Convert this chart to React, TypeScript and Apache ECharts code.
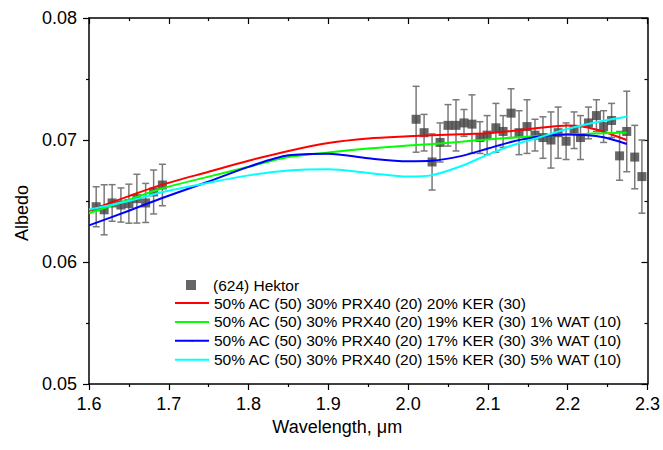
import React, { useEffect, useRef } from "react";
import * as echarts from "echarts";

// Observations: (624) Hektor
const obsWl = [
  1.609, 1.619, 1.629, 1.640, 1.650, 1.660, 1.671, 1.681, 1.692,
  2.010, 2.020, 2.030, 2.040, 2.050, 2.060, 2.070, 2.080, 2.090, 2.099,
  2.110, 2.119, 2.129, 2.139, 2.149, 2.159, 2.169, 2.179, 2.188, 2.198,
  2.208, 2.216, 2.226, 2.236, 2.245, 2.255, 2.265, 2.274, 2.284, 2.293,
];
const obsAlbedo = [
  0.06453, 0.06428, 0.06484, 0.06467, 0.06478, 0.06519, 0.06484, 0.06574, 0.06631,
  0.0717, 0.0706, 0.0682, 0.0698, 0.0712, 0.0712, 0.0714, 0.0713, 0.0702, 0.0704,
  0.0710, 0.0707, 0.0722, 0.0706, 0.0711, 0.0704, 0.0702, 0.0700, 0.0706, 0.0699,
  0.0708, 0.0702, 0.0714, 0.0720, 0.0711, 0.0716, 0.0687, 0.0707, 0.0686, 0.0670,
];
const obsErr = [
  0.00164, 0.00205, 0.0015, 0.0014, 0.0016, 0.0020, 0.0016, 0.0018, 0.0017,
  0.0027, 0.0015, 0.0023, 0.0016, 0.0017, 0.0021, 0.0011, 0.0024, 0.0013, 0.0016,
  0.0020, 0.0013, 0.0020, 0.0018, 0.0022, 0.0013, 0.0017, 0.0023, 0.0021, 0.0015,
  0.0015, 0.0018, 0.0013, 0.0013, 0.0013, 0.0014, 0.0020, 0.0033, 0.0026, 0.0030,
];

// Model curves
const curveWl = [
  1.6, 1.65, 1.69, 1.75, 1.8, 1.85, 1.9, 1.95, 2.0, 2.03, 2.066, 2.1, 2.13, 2.166, 2.2, 2.22, 2.245, 2.274,
];
const redVals = [
  0.0642, 0.0654, 0.0663, 0.0674, 0.0683, 0.0691, 0.06975, 0.07012, 0.0703, 0.07038, 0.07047, 0.07055,
  0.07074, 0.07101, 0.07118, 0.07109, 0.07068, 0.0700,
];
const greenVals = [
  0.0640, 0.0651, 0.0660, 0.0670, 0.0678, 0.0686, 0.06898, 0.0693, 0.06955, 0.06967, 0.06986, 0.07005,
  0.07019, 0.07033, 0.07047, 0.0705, 0.07055, 0.0706,
];
const blueVals = [
  0.0630, 0.0642, 0.0652, 0.0666, 0.0678, 0.06875, 0.06888, 0.0685, 0.06826, 0.0683, 0.06868, 0.0693,
  0.06986, 0.0703, 0.07045, 0.07041, 0.07022, 0.06967,
];
const cyanVals = [
  0.0643, 0.0650, 0.0657, 0.0665, 0.0671, 0.0675, 0.0676, 0.0673, 0.0670, 0.06712, 0.06785, 0.0688,
  0.06955, 0.07025, 0.07092, 0.07123, 0.07158, 0.07191,
];

const obsName = "(624) Hektor";
const curveNames = [
  "50% AC (50) 30% PRX40 (20) 20% KER (30)",
  "50% AC (50) 30% PRX40 (20) 19% KER (30) 1% WAT (10)",
  "50% AC (50) 30% PRX40 (20) 17% KER (30) 3% WAT (10)",
  "50% AC (50) 30% PRX40 (20) 15% KER (30) 5% WAT (10)",
];
const curveColors = ["#ff0000", "#00ff00", "#0000ff", "#00ffff"];
const curveVals = [redVals, greenVals, blueVals, cyanVals];

const xTicks = { min: 1.6, max: 2.3, interval: 0.1 };
const yTicks = { min: 0.05, max: 0.08, interval: 0.01 };

const FONT = "Liberation Sans, Arial, sans-serif";

export default function App() {
  const ref = useRef<HTMLDivElement>(null);
  useEffect(() => {
    if (!ref.current) return;
    const chart = echarts.init(ref.current, undefined, { renderer: "svg" });
    const axisLine = { show: true, lineStyle: { color: "#000", width: 1.5 } };
    const baseX = {
      type: "value",
      min: xTicks.min,
      max: xTicks.max,
      interval: xTicks.interval,
      splitLine: { show: false },
      axisLine,
    };
    const baseY = {
      type: "value",
      min: yTicks.min,
      max: yTicks.max,
      interval: yTicks.interval,
      splitLine: { show: false },
      axisLine,
    };
    const errData = obsWl.map((w, i) => [w, obsAlbedo[i], obsErr[i]]);
    const option: any = {
      animation: false,
      backgroundColor: "#fff",
      textStyle: { fontFamily: FONT },
      grid: { left: 89, right: 14, top: 18, bottom: 66, containLabel: false },
      xAxis: [
        {
          ...baseX,
          position: "bottom",
          name: "Wavelength, μm",
          nameLocation: "middle",
          nameGap: 32,
          nameTextStyle: { fontSize: 18, color: "#000", fontFamily: FONT, padding: [0, 62, 0, 0] },
          axisTick: { show: true, inside: false, length: 6, lineStyle: { color: "#000", width: 1.2 } },
          minorTick: { show: true, splitNumber: 2, length: 3, lineStyle: { color: "#000", width: 1.2 } },
          axisLabel: {
            show: true,
            margin: 11,
            fontSize: 18,
            color: "#000",
            fontFamily: FONT,
            formatter: (v: number) => v.toFixed(1),
          },
        },
        {
          ...baseX,
          position: "top",
          axisTick: { show: true, inside: true, length: 6, lineStyle: { color: "#000", width: 1.2 } },
          minorTick: { show: true, splitNumber: 2, length: 3, lineStyle: { color: "#000", width: 1.2 } },
          axisLabel: { show: false },
        },
      ],
      yAxis: [
        {
          ...baseY,
          position: "left",
          name: "Albedo",
          nameLocation: "middle",
          nameGap: 58,
          nameTextStyle: { fontSize: 18, color: "#000", fontFamily: FONT, padding: [0, 24, 0, 0] },
          axisTick: { show: true, inside: false, length: 6, lineStyle: { color: "#000", width: 1.2 } },
          minorTick: { show: true, splitNumber: 2, length: 3, lineStyle: { color: "#000", width: 1.2 } },
          axisLabel: {
            show: true,
            margin: 12,
            fontSize: 18,
            color: "#000",
            fontFamily: FONT,
            formatter: (v: number) => v.toFixed(2),
          },
        },
        {
          ...baseY,
          position: "right",
          axisTick: { show: true, inside: true, length: 6, lineStyle: { color: "#000", width: 1.2 } },
          minorTick: { show: true, splitNumber: 2, length: 3, lineStyle: { color: "#000", width: 1.2 } },
          axisLabel: { show: false },
        },
      ],
      legend: [
        {
          data: [obsName],
          left: 186,
          top: 276,
          padding: 0,
          icon: "rect",
          itemWidth: 10,
          itemHeight: 10,
          textStyle: { fontSize: 15.5, lineHeight: 18, color: "#000", fontFamily: FONT, padding: [0, 0, 0, 12] },
          selectedMode: false,
        },
        {
          data: curveNames,
          left: 174,
          top: 294,
          padding: 0,
          orient: "vertical",
          itemWidth: 34,
          itemHeight: 2,
          itemGap: 0.9,
          textStyle: { fontSize: 15.5, lineHeight: 18, color: "#000", fontFamily: FONT },
          selectedMode: false,
        },
      ],
      series: [
        {
          type: "custom",
          name: "errorbars",
          xAxisIndex: 0,
          yAxisIndex: 0,
          data: errData,
          encode: { x: 0, y: 1 },
          z: 1,
          silent: true,
          renderItem: (params: any, api: any) => {
            const x = api.value(0);
            const y = api.value(1);
            const e = api.value(2);
            const top = api.coord([x, y + e]);
            const bot = api.coord([x, y - e]);
            const hw = 3.5;
            const st = { stroke: "#7a7a7a", lineWidth: 1.5 };
            return {
              type: "group",
              children: [
                { type: "line", shape: { x1: top[0], y1: top[1], x2: bot[0], y2: bot[1] }, style: st },
                { type: "line", shape: { x1: top[0] - hw, y1: top[1], x2: top[0] + hw, y2: top[1] }, style: st },
                { type: "line", shape: { x1: bot[0] - hw, y1: bot[1], x2: bot[0] + hw, y2: bot[1] }, style: st },
              ],
            };
          },
        },
        {
          type: "scatter",
          name: obsName,
          data: obsWl.map((w, i) => [w, obsAlbedo[i]]),
          symbol: "rect",
          symbolSize: 9,
          itemStyle: { color: "#404040" },
          z: 2,
        },
        ...curveNames.map((n, k) => ({
          type: "line",
          name: n,
          data: curveWl.map((w, i) => [w, curveVals[k][i]]),
          smooth: 0.3,
          showSymbol: false,
          symbol: "none",
          lineStyle: { color: curveColors[k], width: 2 },
          itemStyle: { color: curveColors[k] },
          z: 3,
        })),
      ],
    };
    chart.setOption(option);
    return () => chart.dispose();
  }, []);
  return (
    <div
      ref={ref}
      style={{ position: "fixed", left: 0, top: 0, width: 663, height: 450, background: "#fff" }}
    />
  );
}
